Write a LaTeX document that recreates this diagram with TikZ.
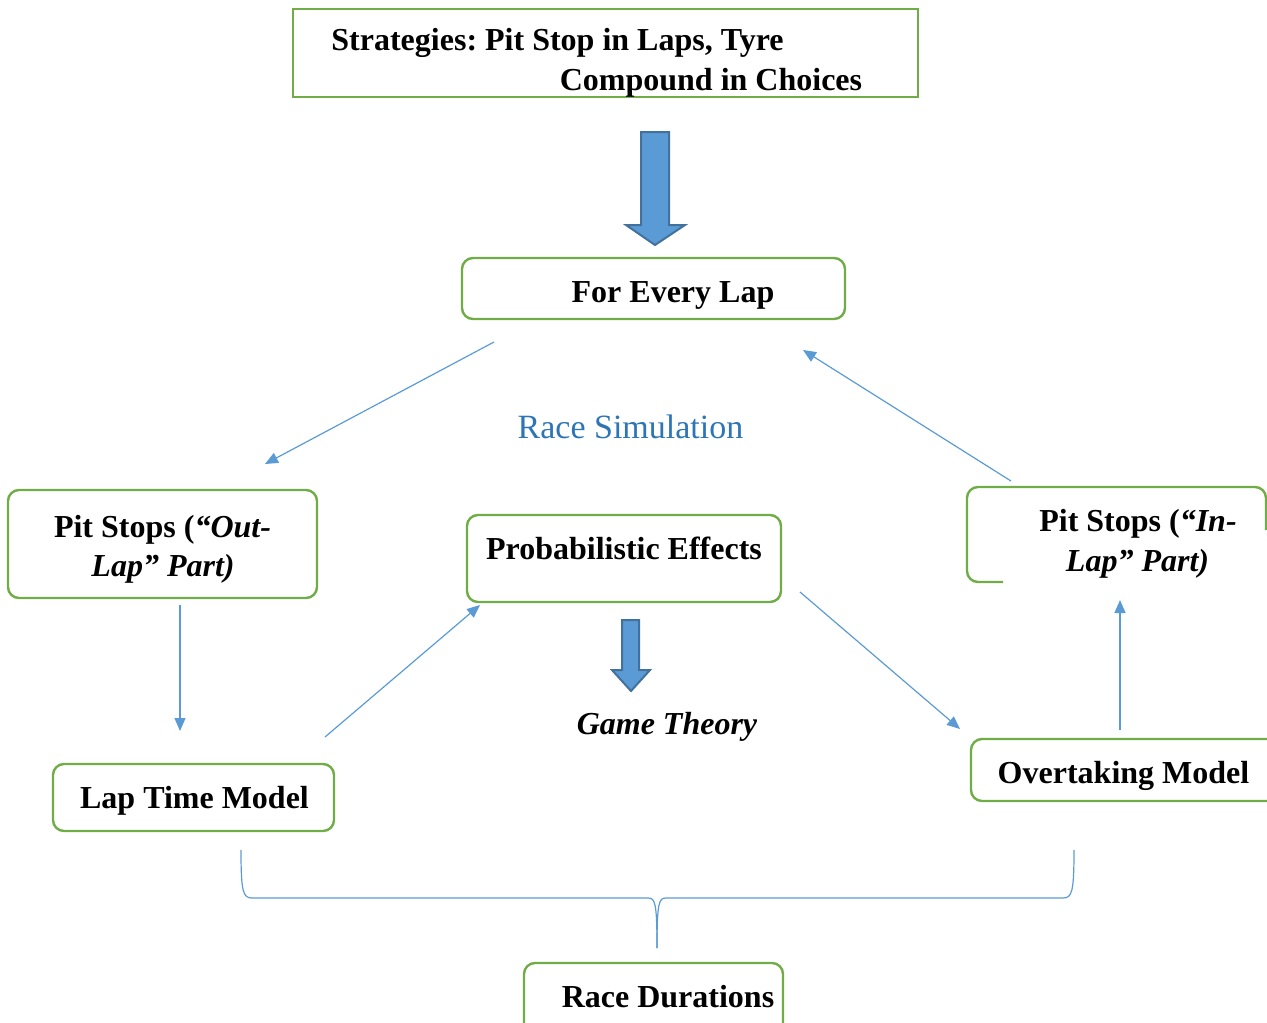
\documentclass[tikz,border=0pt]{standalone}
\usepackage{fontspec}
\setmainfont{Liberation Serif}
\usetikzlibrary{arrows.meta}
\definecolor{boxgreen}{HTML}{70AD47}
\definecolor{lineblue}{HTML}{5B9BD5}
\definecolor{arrowedge}{HTML}{41719C}
\definecolor{titleblue}{HTML}{2E75B6}
\tikzset{
  greenbox/.style={draw=boxgreen, line width=2.4pt, rounded corners=11pt, inner sep=0pt},
  sqbox/.style={draw=boxgreen, line width=2.4pt, inner sep=0pt},
  lbl/.style={anchor=base, inner sep=0pt, font=\fontsize{32}{40}\selectfont\bfseries\frenchspacing},
  conn/.style={draw=lineblue, line width=1.2pt, -{Triangle[length=13pt,width=11pt]}},
  brace/.style={draw=lineblue, line width=1.2pt},
  blockarrow/.style={fill=lineblue, draw=arrowedge, line width=2pt, line join=miter}
}
\begin{document}
\begin{tikzpicture}[x=1pt,y=-1pt]
\useasboundingbox (0,0) rectangle (1267,1023);
\clip (0,0) rectangle (1267,1023);
% boxes
\node[sqbox, minimum width=625pt, minimum height=88pt] (strat) at (605.5,53) {};
\node[greenbox, minimum width=383pt, minimum height=61pt] (lap) at (653.5,288.5) {};
\node[greenbox, minimum width=309pt, minimum height=108pt] (outlap) at (162.5,544) {};
\node[greenbox, minimum width=314pt, minimum height=87pt] (prob) at (624,558.5) {};
\node[greenbox, minimum width=281pt, minimum height=67pt] (ltm) at (193.5,797.5) {};
\node[greenbox, minimum width=320pt, minimum height=62pt] (otm) at (1131,770) {};
\node[greenbox, minimum width=259pt, minimum height=80pt] (rd) at (653.5,1003) {};
% in-lap box (open border)
\draw[draw=boxgreen, line width=2.4pt, rounded corners=11pt] (1003,582) -- (967,582) -- (967,487) -- (1266,487) -- (1266,530);
\coordinate (inlap) at (1115,535);
% texts
\node[lbl] (t1) at (557.5,50) {Strategies: Pit Stop in Laps, Tyre};
\node[lbl] (t2) at (711,90) {Compound in Choices};
\node[lbl] (t3) at (673,302) {For Every Lap};
\node[anchor=base, inner sep=0pt, font=\fontsize{34}{40}\selectfont, text=titleblue] (t4) at (630.5,438) {Race Simulation};
\node[lbl] (t5) at (162.5,537) {Pit Stops (\textit{“Out-}};
\node[lbl] (t6) at (163,576) {\textit{Lap” Part)}};
\node[lbl] (t7) at (624,559) {Probabilistic Effects};
\node[lbl] (t8) at (667,734) {\textit{Game Theory}};
\node[lbl] (t9) at (1138,531) {Pit Stops (\textit{“In-}};
\node[lbl] (t10) at (1137.5,571) {\textit{Lap” Part)}};
\node[lbl] (t11) at (1123.5,783) {Overtaking Model};
\node[lbl] (t12) at (194.5,808) {Lap Time Model};
\node[lbl] (t13) at (668,1007) {Race Durations};
% block arrows
\draw[blockarrow] (641,132) -- (669,132) -- (669,225) -- (685,225) -- (655,245) -- (626,225) -- (641,225) -- cycle;
\draw[blockarrow] (622,620) -- (639,620) -- (639,670) -- (650,670) -- (631,691) -- (612,670) -- (622,670) -- cycle;
% connector endpoints
\coordinate (a1s) at (494,342); \coordinate (a1e) at (265,464);
\coordinate (a2s) at (1011,481); \coordinate (a2e) at (803,350);
\coordinate (a3s) at (180,605); \coordinate (a3e) at (180,731);
\coordinate (a4s) at (325,737); \coordinate (a4e) at (480,605);
\coordinate (a5s) at (800,592); \coordinate (a5e) at (960,729);
\coordinate (a6s) at (1120,730); \coordinate (a6e) at (1120,600);
\draw[conn] (a1s) -- (a1e);
\draw[conn] (a2s) -- (a2e);
\draw[conn] (a3s) -- (a3e);
\draw[conn] (a4s) -- (a4e);
\draw[conn] (a5s) -- (a5e);
\draw[conn] (a6s) -- (a6e);
% brace
\coordinate (bl) at (241,850); \coordinate (br) at (1074,850); \coordinate (bc) at (657,948);
\draw[brace] (bl) .. controls (241,892) and (243,898) .. (252,898) -- (648,898) .. controls (655,898) and (657,902) .. (bc);
\draw[brace] (br) .. controls (1074,892) and (1072,898) .. (1063,898) -- (666,898) .. controls (659,898) and (657,902) .. (bc);
\end{tikzpicture}
\end{document}
